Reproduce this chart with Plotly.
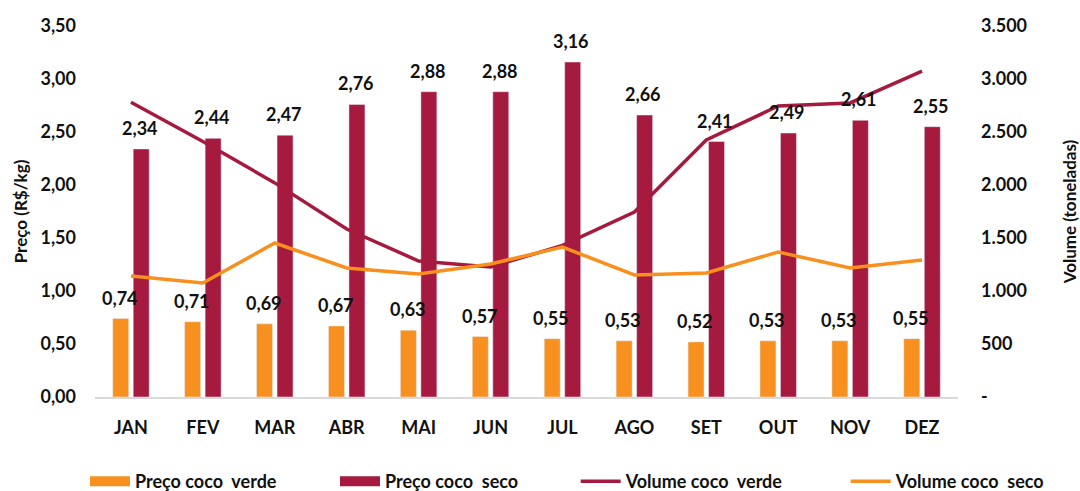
import plotly.graph_objects as go

meses = ["JAN", "FEV", "MAR", "ABR", "MAI", "JUN", "JUL", "AGO", "SET", "OUT", "NOV", "DEZ"]
preco_verde = [0.74, 0.71, 0.69, 0.67, 0.63, 0.57, 0.55, 0.53, 0.52, 0.53, 0.53, 0.55]
preco_seco = [2.34, 2.44, 2.47, 2.76, 2.88, 2.88, 3.16, 2.66, 2.41, 2.49, 2.61, 2.55]
volume_verde = [2780, 2410, 2020, 1585, 1283, 1226, 1430, 1745, 2425, 2745, 2774, 3075]
volume_seco = [1142, 1075, 1453, 1217, 1160, 1255, 1415, 1151, 1170, 1368, 1217, 1292]

left_ticks = [0, 0.5, 1.0, 1.5, 2.0, 2.5, 3.0, 3.5]
right_ticks = [0, 500, 1000, 1500, 2000, 2500, 3000, 3500]
right_ticktext = ["-", "500", "1.000", "1.500", "2.000", "2.500", "3.000", "3.500"]

ORANGE = "#F7901E"
CRIMSON = "#A51A3E"
FONT = "Lato, 'Open Sans', Arial, sans-serif"

def fmt(v):
    return f"{v:.2f}".replace(".", ",")

fig = go.Figure()
fig.add_trace(go.Bar(x=meses, y=preco_verde, name="Preço coco  verde",
                     marker=dict(color=ORANGE), yaxis="y", showlegend=False,
                     legendgroup="pv"))
fig.add_trace(go.Bar(x=meses, y=preco_seco, name="Preço coco  seco",
                     marker=dict(color=CRIMSON), yaxis="y", showlegend=False,
                     legendgroup="ps"))
# legend proxies (wide rectangles like the original legend keys)
fig.add_trace(go.Scatter(x=[None], y=[None], name="Preço coco  verde", mode="lines",
                         line=dict(color=ORANGE, width=16), legend="legend",
                         legendgroup="pv", hoverinfo="skip"))
fig.add_trace(go.Scatter(x=[None], y=[None], name="Preço coco  seco", mode="lines",
                         line=dict(color=CRIMSON, width=16), legend="legend",
                         legendgroup="ps", hoverinfo="skip"))
fig.add_trace(go.Scatter(x=meses, y=volume_verde, name="Volume coco  verde", mode="lines",
                         line=dict(color=CRIMSON, width=3.5), yaxis="y2", legend="legend2"))
fig.add_trace(go.Scatter(x=meses, y=volume_seco, name="Volume coco  seco", mode="lines",
                         line=dict(color=ORANGE, width=3.5), yaxis="y2", legend="legend2"))

lbl_font = dict(size=18, color="#111", family=FONT, weight="bold")
annotations = []
for m, v in zip(meses, preco_verde):
    annotations.append(dict(x=m, y=v, xref="x", yref="y", text=fmt(v), showarrow=False,
                            xshift=-11, yshift=21, font=lbl_font))
for m, v in zip(meses, preco_seco):
    annotations.append(dict(x=m, y=v, xref="x", yref="y", text=fmt(v), showarrow=False,
                            xshift=9, yshift=21, font=lbl_font))

tick_font = dict(size=18, family=FONT, color="#111", weight="bold")
leg_font = dict(size=18, family=FONT, color="#111", weight="bold")
fig.update_layout(
    width=1080, height=491,
    margin=dict(l=95, r=122, t=26, b=94, autoexpand=False),
    plot_bgcolor="white", paper_bgcolor="white",
    separators=",.",
    barmode="group", bargap=0.43, bargroupgap=0.22,
    font=dict(family=FONT, size=16, color="#111"),
    annotations=annotations,
    xaxis=dict(showline=True, linecolor="#D9D9D9", linewidth=2, showgrid=False,
               ticks="", ticklabelstandoff=13, tickfont=tick_font),
    yaxis=dict(range=[0, 3.5], tickvals=left_ticks, tickformat=".2f", showgrid=False,
               zeroline=False, showline=False, ticklabelstandoff=18, tickfont=tick_font,
               title=dict(text="Preço (R$/kg)", standoff=8,
                          font=dict(size=17, family=FONT, color="#111", weight="bold"))),
    yaxis2=dict(range=[0, 3500], overlaying="y", side="right", tickvals=right_ticks,
                ticktext=right_ticktext, showgrid=False, zeroline=False, showline=False,
                ticklabelstandoff=22, tickfont=tick_font,
                title=dict(text="Volume (toneladas)", standoff=38,
                           font=dict(size=17, family=FONT, color="#111", weight="bold"))),
    legend=dict(orientation="h", x=-0.0116, xanchor="left", y=-0.178, yanchor="top",
                entrywidth=195, entrywidthmode="pixels", itemwidth=40,
                font=leg_font, traceorder="normal"),
    legend2=dict(orientation="h", x=0.557, xanchor="left", y=-0.178, yanchor="top",
                 entrywidth=215, entrywidthmode="pixels", itemwidth=40,
                 font=leg_font, traceorder="normal"),
)

fig.write_html("out.html")
